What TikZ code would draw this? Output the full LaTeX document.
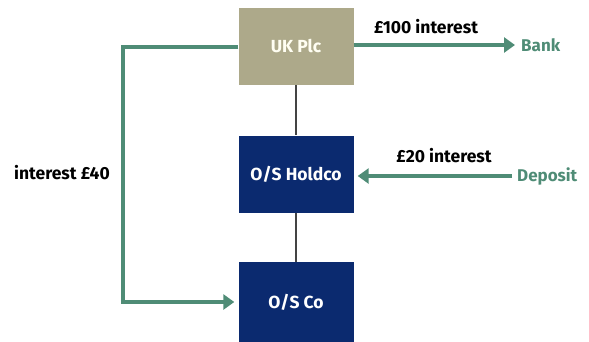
\documentclass[tikz,border=0pt]{standalone}
\usepackage{fontspec}
\setmainfont{Fira Sans}
\usetikzlibrary{arrows.meta}
\definecolor{tanbox}{HTML}{ADA98A}
\definecolor{navybox}{HTML}{0B2A6F}
\definecolor{flowgreen}{HTML}{4F8C76}
\definecolor{linkgray}{HTML}{444444}
\begin{document}
\begin{tikzpicture}[x=1pt,y=-1pt,
  entity/.style={minimum width=115pt,minimum height=77pt,inner sep=0pt,text=white,font=\fontsize{17.5}{19}\selectfont\bfseries},
  flow/.style={draw=flowgreen,line width=4.5pt,-{Triangle[length=11pt,width=15pt]}},
  flowplain/.style={draw=flowgreen,line width=4.5pt},
  lbl/.style={font=\fontsize{17.5}{19}\selectfont\bfseries,text=black,inner sep=0pt},
  glbl/.style={font=\fontsize{17}{18}\selectfont\bfseries,text=flowgreen,inner sep=0pt,anchor=west},
  link/.style={draw=linkgray,line width=1.3pt}]
\useasboundingbox (0,0) rectangle (589,341);
\node[entity,fill=tanbox,text=white!95!yellow] (uk) at (296,46.5) {UK Plc};
\node[entity,fill=navybox] (hold) at (296,174) {O/S Holdco};
\node[entity,fill=navybox,minimum height=80pt] (co) at (296,302) {O/S Co};
\draw[link] (uk.south) -- (hold.north);
\draw[link] (hold.south) -- (co.north);
% bank
\node[glbl] (bank) at (521,45) {Bank};
\node[lbl] (l100) at (426,27) {\pounds100 interest};
\coordinate (ukr) at (uk.east |- 0,45);
\draw[flow] (ukr) -- ([xshift=-6pt]bank.west);
% deposit
\node[glbl] (dep) at (517,176) {Deposit};
\node[lbl] (l20) at (444,156) {\pounds20 interest};
\draw[flow] ([xshift=-5pt]dep.west) -- ([xshift=4pt]hold.east |- dep.west);
% interest 40
\node[lbl] (l40) at (62,173) {interest \pounds40};
\coordinate (ukl) at (uk.west |- 0,47);
\coordinate (corner1) at (123,47);
\coordinate (corner2) at (123,302);
\draw[flowplain] (ukl) -- (corner1) -- (corner2);
\draw[flow] ([xshift=-2.25pt]corner2) -- ([xshift=-4pt]co.west |- corner2);
\end{tikzpicture}
\end{document}
